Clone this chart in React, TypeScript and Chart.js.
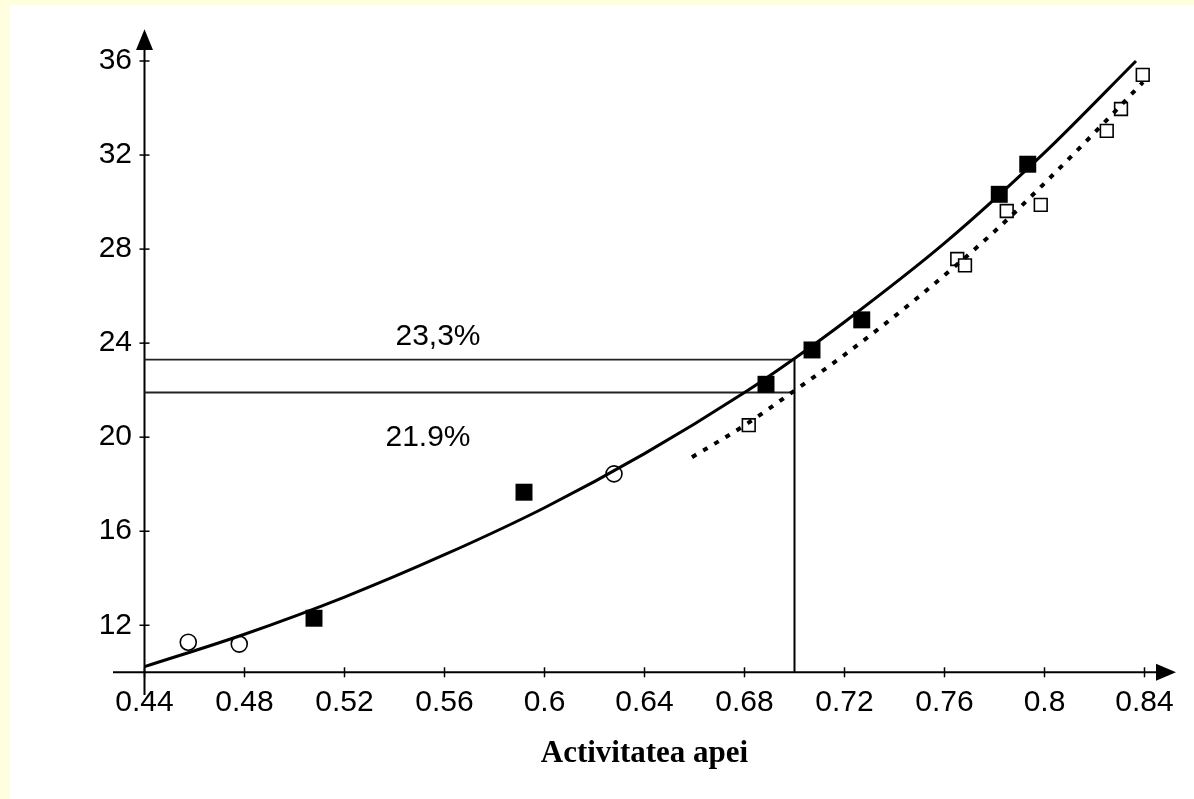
import React, { useEffect, useRef } from 'react';
import { Chart, registerables } from 'chart.js';

Chart.register(...registerables);

// ---- data ----
const xTickValues = [0.44, 0.48, 0.52, 0.56, 0.6, 0.64, 0.68, 0.72, 0.76, 0.8, 0.84];
const xTickLabels = ['0.44', '0.48', '0.52', '0.56', '0.6', '0.64', '0.68', '0.72', '0.76', '0.8', '0.84'];
const yTickValues = [12, 16, 20, 24, 28, 32, 36];
const yTickLabels = ['12', '16', '20', '24', '28', '32', '36'];

// solid fitted curve
const solidX = [0.44, 0.48, 0.52, 0.56, 0.6, 0.64, 0.68, 0.7, 0.72, 0.76, 0.8, 0.8366];
const solidY = [10.24, 11.62, 13.2, 15.0, 17.0, 19.3, 21.9, 23.35, 24.9, 28.25, 32.1, 36.0];

// dotted fitted curve
const dottedX = [0.659, 0.68, 0.7, 0.72, 0.75, 0.78, 0.8, 0.82, 0.8394];
const dottedY = [19.15, 20.5, 21.98, 23.5, 26.0, 28.75, 30.8, 32.95, 35.1];

// filled squares
const filledX = [0.5078, 0.5918, 0.6886, 0.707, 0.7269, 0.7819, 0.7933];
const filledY = [12.3, 17.66, 22.25, 23.71, 24.99, 30.33, 31.61];

// open squares
const openX = [0.6817, 0.7651, 0.7682, 0.7849, 0.7985, 0.8249, 0.8306, 0.8393];
const openY = [20.51, 27.58, 27.31, 29.62, 29.88, 33.03, 33.96, 35.41];

// open circles
const circleX = [0.4575, 0.4779, 0.6278];
const circleY = [11.28, 11.2, 18.44];

// reference lines
const refX = 0.7;
const refLevels = [23.3, 21.9];
const refLabels = ['23,3%', '21.9%'];

const X_MIN = 0.44;
const X_MAX = 0.84;
const Y_MIN = 10;
const Y_MAX = 36;

const pts = (xs: number[], ys: number[]) => xs.map((x, i) => ({ x, y: ys[i] }));

// label anchor positions (data coords)
const refLabelAnchors = [
  { x: 0.5574, y: 24.26 },
  { x: 0.5534, y: 19.97 },
];

const axesPlugin = {
  id: 'customAxes',
  beforeDatasetsDraw(chart: any) {
    const { ctx, scales } = chart;
    const xs = scales.x;
    const ys = scales.y;
    const x0 = xs.getPixelForValue(X_MIN);
    const y0 = ys.getPixelForValue(Y_MIN);
    const xEnd = xs.getPixelForValue(X_MAX);
    const yEnd = ys.getPixelForValue(Y_MAX);
    ctx.save();
    ctx.strokeStyle = '#000';
    ctx.fillStyle = '#000';
    ctx.lineWidth = 2;
    // x axis
    ctx.beginPath();
    ctx.moveTo(x0 - 31.5, y0);
    ctx.lineTo(xEnd + 14, y0);
    ctx.stroke();
    ctx.beginPath();
    ctx.moveTo(xEnd + 31.5, y0);
    ctx.lineTo(xEnd + 11.5, y0 - 8.5);
    ctx.lineTo(xEnd + 11.5, y0 + 8.5);
    ctx.closePath();
    ctx.fill();
    // y axis
    ctx.beginPath();
    ctx.moveTo(x0, y0 + 22.7);
    ctx.lineTo(x0, yEnd - 14);
    ctx.stroke();
    ctx.beginPath();
    ctx.moveTo(x0, yEnd - 31.7);
    ctx.lineTo(x0 - 8.5, yEnd - 11);
    ctx.lineTo(x0 + 8.5, yEnd - 11);
    ctx.closePath();
    ctx.fill();
    // ticks
    ctx.lineWidth = 1.5;
    xTickValues.forEach((v) => {
      const px = xs.getPixelForValue(v);
      ctx.beginPath();
      ctx.moveTo(px, y0 - 5);
      ctx.lineTo(px, y0 + 5);
      ctx.stroke();
    });
    yTickValues.forEach((v) => {
      const py = ys.getPixelForValue(v);
      ctx.beginPath();
      ctx.moveTo(x0 - 5, py);
      ctx.lineTo(x0 + 5, py);
      ctx.stroke();
    });
    ctx.restore();
  },
  afterDatasetsDraw(chart: any) {
    const { ctx, scales } = chart;
    ctx.save();
    ctx.fillStyle = '#000';
    ctx.font = '30px "Liberation Sans", Arial, sans-serif';
    ctx.textAlign = 'center';
    ctx.textBaseline = 'middle';
    refLabels.forEach((t, i) => {
      const a = refLabelAnchors[i];
      ctx.fillText(t, scales.x.getPixelForValue(a.x), scales.y.getPixelForValue(a.y));
    });
    ctx.restore();
  },
};

export default function App() {
  const ref = useRef<HTMLCanvasElement | null>(null);

  useEffect(() => {
    if (!ref.current) return;
    const chart = new Chart(ref.current, {
      type: 'scatter',
      data: {
        datasets: [
          {
            label: 'dotted',
            data: pts(dottedX, dottedY),
            showLine: true,
            borderColor: '#000',
            borderWidth: 4,
            borderDash: [5, 8],
            borderCapStyle: 'butt',
            pointRadius: 0,
            cubicInterpolationMode: 'monotone',
            clip: false,
            order: 0,
          } as any,
          {
            label: 'solid',
            data: pts(solidX, solidY),
            showLine: true,
            borderColor: '#000',
            borderWidth: 3,
            pointRadius: 0,
            cubicInterpolationMode: 'monotone',
            clip: false,
            order: 1,
          } as any,
          {
            label: 'open squares',
            data: pts(openX, openY),
            pointStyle: 'rect',
            pointRadius: 9,
            pointBorderWidth: 1.6,
            pointBorderColor: '#000',
            pointBackgroundColor: '#fff',
            clip: false,
            order: 2,
          } as any,
          {
            label: 'circles',
            data: pts(circleX, circleY),
            pointStyle: 'circle',
            pointRadius: 8,
            pointBorderWidth: 1.6,
            pointBorderColor: '#000',
            pointBackgroundColor: '#fff',
            clip: false,
            order: 2,
          } as any,
          {
            label: 'filled squares',
            data: pts(filledX, filledY),
            pointStyle: 'rect',
            pointRadius: 12,
            pointBorderWidth: 0,
            pointBackgroundColor: '#000',
            clip: false,
            order: 3,
          } as any,
          {
            label: 'ref1',
            data: [
              { x: X_MIN, y: refLevels[0] },
              { x: refX, y: refLevels[0] },
            ],
            showLine: true,
            borderColor: '#222',
            borderWidth: 1.8,
            pointRadius: 0,
            clip: false,
            order: 4,
          } as any,
          {
            label: 'ref2',
            data: [
              { x: X_MIN, y: refLevels[1] },
              { x: refX, y: refLevels[1] },
            ],
            showLine: true,
            borderColor: '#222',
            borderWidth: 1.8,
            pointRadius: 0,
            clip: false,
            order: 4,
          } as any,
          {
            label: 'refV',
            data: [
              { x: refX, y: Y_MIN },
              { x: refX, y: refLevels[0] },
            ],
            showLine: true,
            borderColor: '#000',
            borderWidth: 2,
            pointRadius: 0,
            clip: false,
            order: 4,
          } as any,
        ],
      },
      options: {
        animation: false,
        responsive: false,
        events: [],
        layout: { padding: { top: 56, right: 49.5, left: 0, bottom: 0 } },
        plugins: {
          legend: { display: false },
          tooltip: { enabled: false },
          title: { display: false },
        },
        scales: {
          x: {
            type: 'linear',
            position: 'bottom',
            min: X_MIN,
            max: X_MAX,
            afterFit: (s: any) => {
              s.height = 126.7;
            },
            afterBuildTicks: (s: any) => {
              s.ticks = xTickValues.map((value) => ({ value }));
            },
            grid: { display: false, drawTicks: false },
            border: { display: false },
            ticks: {
              padding: 12.6,
              color: '#000',
              autoSkip: false,
              maxRotation: 0,
              minRotation: 0,
              font: { family: '"Liberation Sans", Arial, sans-serif', size: 30 },
              callback: (_v: any, i: number) => xTickLabels[i],
            },
            title: {
              display: true,
              text: 'Activitatea apei',
              color: '#000',
              font: { family: '"Liberation Serif", "Times New Roman", serif', size: 31, weight: 'bold' },
              padding: { top: 0, bottom: 26 },
            },
          },
          y: {
            type: 'linear',
            min: Y_MIN,
            max: Y_MAX,
            afterFit: (s: any) => {
              s.width = 134.5;
            },
            afterBuildTicks: (s: any) => {
              s.ticks = yTickValues.map((value) => ({ value }));
            },
            grid: { display: false, drawTicks: false },
            border: { display: false },
            ticks: {
              padding: 12.5,
              color: '#000',
              font: { family: '"Liberation Sans", Arial, sans-serif', size: 30 },
              callback: (_v: any, i: number) => yTickLabels[i],
            },
          },
        },
      } as any,
      plugins: [axesPlugin],
    });
    return () => chart.destroy();
  }, []);

  return (
    <div
      style={{
        position: 'fixed',
        left: 0,
        top: 0,
        width: 1194,
        height: 799,
        background: '#FFFFE0',
        overflow: 'hidden',
      }}
    >
      <div
        style={{
          position: 'absolute',
          left: 10,
          top: 5,
          width: 1184,
          height: 794,
          background: '#FFFFFF',
        }}
      >
        <canvas ref={ref} width={1184} height={794} style={{ display: 'block' }} />
      </div>
    </div>
  );
}
